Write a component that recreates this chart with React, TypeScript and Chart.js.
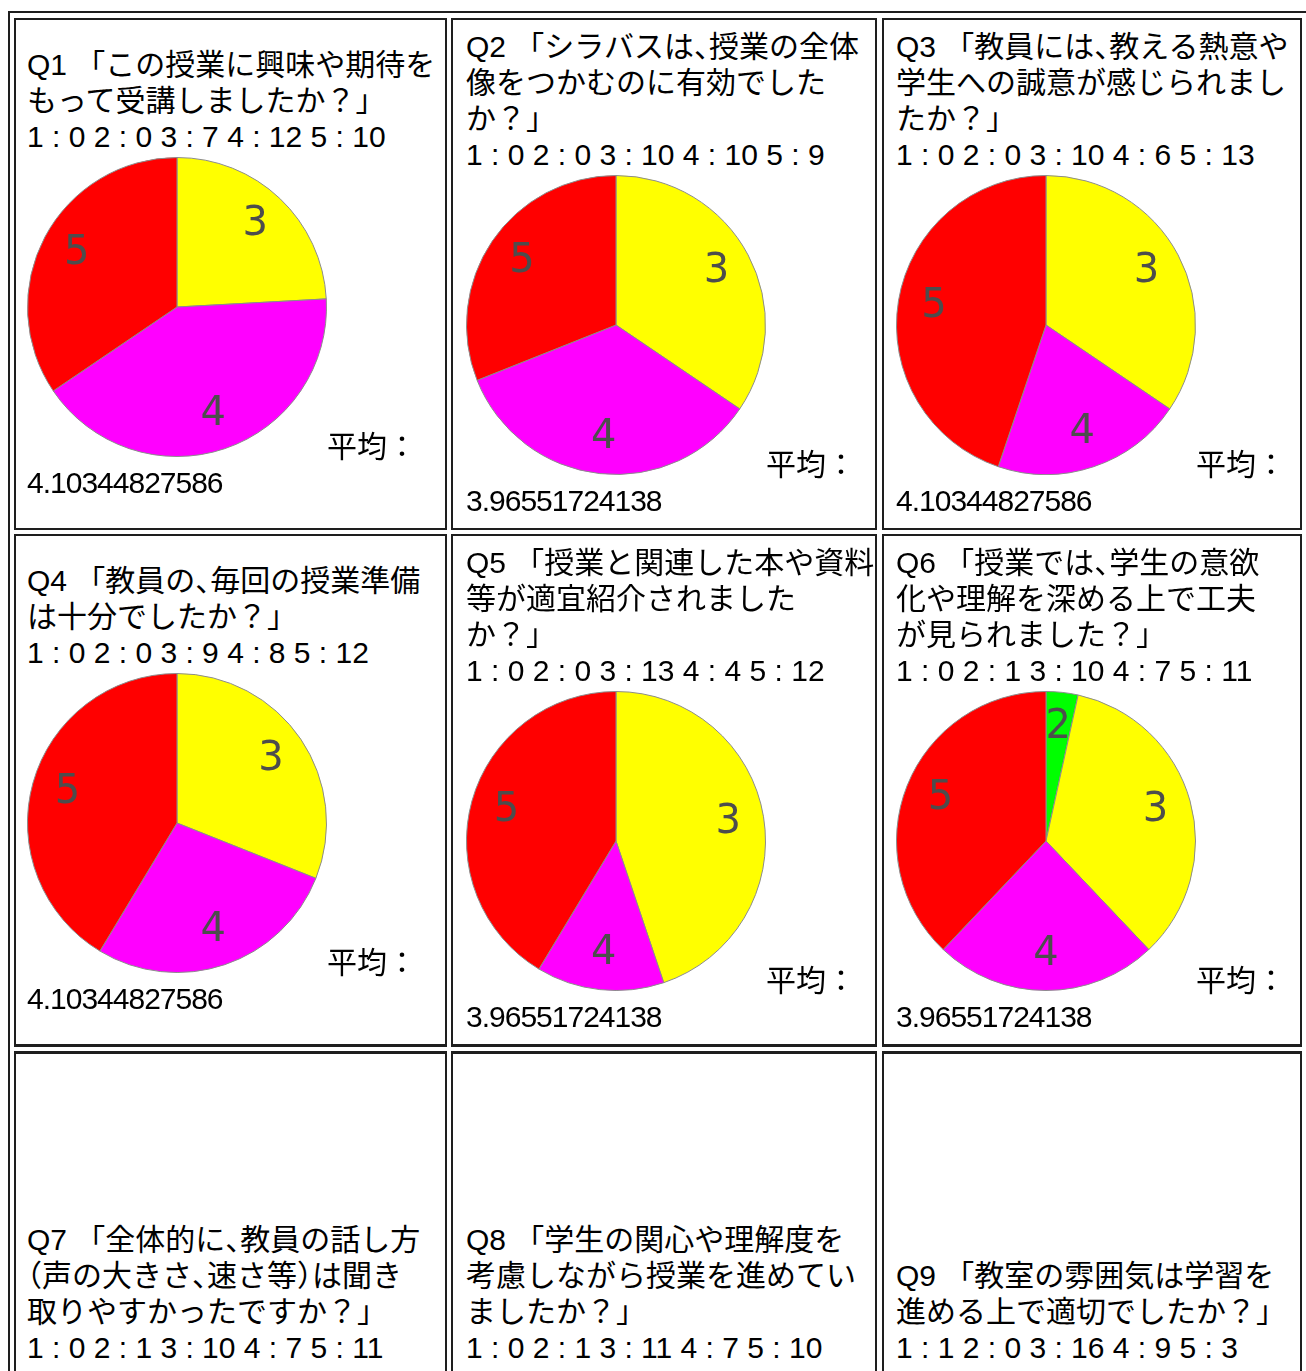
import React, { useEffect, useRef } from "react";
import { Chart, registerables } from "chart.js";

Chart.register(...registerables);

// ---------- data ----------
const categories = ["1", "2", "3", "4", "5"];
const sliceColors = ["#0000ff", "#00ff00", "#ffff00", "#ff00ff", "#ff0000"];

const q1Title = ["Q1 「この授業に興味や期待を", "もって受講しましたか？」"];
const q2Title = ["Q2 「シラバスは、授業の全体", "像をつかむのに有効でした", "か？」"];
const q3Title = ["Q3 「教員には、教える熱意や", "学生への誠意が感じられまし", "たか？」"];
const q4Title = ["Q4 「教員の、毎回の授業準備", "は十分でしたか？」"];
const q5Title = ["Q5 「授業と関連した本や資料", "等が適宜紹介されました", "か？」"];
const q6Title = ["Q6 「授業では、学生の意欲", "化や理解を深める上で工夫", "が見られました？」"];
const q7Title = ["Q7 「全体的に、教員の話し方", "（声の大きさ、速さ等）は聞き", "取りやすかったですか？」"];
const q8Title = ["Q8 「学生の関心や理解度を", "考慮しながら授業を進めてい", "ましたか？」"];
const q9Title = ["Q9 「教室の雰囲気は学習を", "進める上で適切でしたか？」"];

const q1Values = [0, 0, 7, 12, 10];
const q2Values = [0, 0, 10, 10, 9];
const q3Values = [0, 0, 10, 6, 13];
const q4Values = [0, 0, 9, 8, 12];
const q5Values = [0, 0, 13, 4, 12];
const q6Values = [0, 1, 10, 7, 11];
const q7Values = [0, 1, 10, 7, 11];
const q8Values = [0, 1, 11, 7, 10];
const q9Values = [1, 0, 16, 9, 3];

const averageLabel = "平均：";

const questions = [
  { title: q1Title, values: q1Values },
  { title: q2Title, values: q2Values },
  { title: q3Title, values: q3Values },
  { title: q4Title, values: q4Values },
  { title: q5Title, values: q5Values },
  { title: q6Title, values: q6Values },
  { title: q7Title, values: q7Values },
  { title: q8Title, values: q8Values },
  { title: q9Title, values: q9Values },
];

// ---------- layout ----------
const FONT = '"Liberation Sans", Arial, "Noto Sans CJK JP", sans-serif';
const LINE = 36;
const BORDER = "#1e1e1e";

const COLS = [
  { left: 14, width: 433, padL: 11 },
  { left: 451, width: 426, padL: 13 },
  { left: 882, width: 420, padL: 12 },
];
const ROWS = [
  { top: 18, height: 512, bt: 2, bb: 2 },
  { top: 534, height: 513, bt: 2, bb: 3 },
  { top: 1051, height: 900, bt: 3, bb: 2 },
];

const HALF_CHARS = "、（）";

function renderLine(t: string) {
  const parts: React.ReactNode[] = [];
  let buf = "";
  let k = 0;
  for (const ch of t) {
    if (HALF_CHARS.includes(ch)) {
      if (buf) parts.push(buf);
      buf = "";
      parts.push(
        <span key={k++} style={{ fontFeatureSettings: '"halt"' }}>
          {ch}
        </span>
      );
    } else buf += ch;
  }
  if (buf) parts.push(buf);
  return parts;
}

function countsText(values: number[]) {
  return categories.map((c, i) => `${c} : ${values[i]}`).join(" ");
}
function averageText(values: number[]) {
  const n = values.reduce((a, b) => a + b, 0);
  const s = values.reduce((a, v, i) => a + v * Number(categories[i]), 0);
  return (s / n).toPrecision(12);
}

const labelPlugin = {
  id: "sliceLabels",
  afterDatasetsDraw(chart: any) {
    const ctx = chart.ctx;
    const meta = chart.getDatasetMeta(0);
    const data = chart.data.datasets[0].data as number[];
    ctx.save();
    ctx.font = '40px "DejaVu Sans", sans-serif';
    ctx.fillStyle = "#4d4d4d";
    ctx.textAlign = "center";
    ctx.textBaseline = "middle";
    meta.data.forEach((arc: any, i: number) => {
      if (!data[i]) return;
      const p = arc.getProps(["x", "y", "startAngle", "endAngle", "outerRadius"], true);
      const mid = (p.startAngle + p.endAngle) / 2;
      const r = p.outerRadius * 0.76;
      ctx.fillText(
        String(chart.data.labels[i]),
        p.x + Math.cos(mid) * r,
        p.y + Math.sin(mid) * r
      );
    });
    ctx.restore();
  },
};

function Pie({ values }: { values: number[] }) {
  const ref = useRef<HTMLCanvasElement>(null);
  useEffect(() => {
    if (!ref.current) return;
    const chart = new Chart(ref.current, {
      type: "pie",
      data: {
        labels: categories,
        datasets: [
          {
            data: values,
            backgroundColor: sliceColors,
            borderColor: "#8c8c8c",
            borderWidth: 1,
          },
        ],
      },
      options: {
        animation: false,
        responsive: false,
        devicePixelRatio: 1,
        events: [],
        layout: { padding: 0 },
        plugins: {
          legend: { display: false },
          tooltip: { enabled: false },
        },
      },
      plugins: [labelPlugin],
    } as any);
    return () => chart.destroy();
  }, [values]);
  return (
    <canvas
      ref={ref}
      width={300}
      height={300}
      style={{ display: "block", width: 300, height: 300 }}
    />
  );
}

function Cell({ index }: { index: number }) {
  const q = questions[index];
  const col = COLS[index % 3];
  const rowIdx = Math.floor(index / 3);
  const row = ROWS[rowIdx];
  const isLast = rowIdx === 2;
  const padTop = isLast ? 1222 + LINE * (3 - q.title.length) - (row.top + row.bt) : 0;
  return (
    <div
      style={{
        position: "absolute",
        left: col.left,
        top: row.top,
        width: col.width,
        height: row.height,
        boxSizing: "border-box",
        borderStyle: "solid",
        borderColor: BORDER,
        borderLeftWidth: 2,
        borderRightWidth: 2,
        borderTopWidth: row.bt,
        borderBottomWidth: row.bb,
        paddingLeft: col.padL,
        paddingTop: padTop,
        display: "flex",
        flexDirection: "column",
        justifyContent: isLast ? "flex-start" : "center",
        whiteSpace: "nowrap",
      }}
    >
      {q.title.map((t, i) => (
        <div key={i} style={{ height: LINE }}>
          {renderLine(t)}
        </div>
      ))}
      <div style={{ height: LINE }}>{countsText(q.values)}</div>
      {!isLast && (
        <>
          <div style={{ display: "flex", alignItems: "baseline", marginTop: 2 }}>
            <Pie values={q.values} />
            <div style={{ height: LINE }}>{averageLabel}</div>
          </div>
          <div style={{ height: LINE, letterSpacing: "-1px" }}>{averageText(q.values)}</div>
        </>
      )}
    </div>
  );
}

export default function App() {
  return (
    <div
      style={{
        position: "fixed",
        left: 0,
        top: 0,
        width: 1306,
        height: 1371,
        overflow: "hidden",
        background: "#ffffff",
        fontFamily: FONT,
        fontSize: 30,
        lineHeight: `${LINE}px`,
        color: "#000000",
      }}
    >
      <div
        style={{
          position: "absolute",
          left: 8,
          top: 11,
          width: 1400,
          height: 2000,
          boxSizing: "border-box",
          border: `2px solid ${BORDER}`,
        }}
      />
      {questions.map((_, i) => (
        <Cell key={i} index={i} />
      ))}
    </div>
  );
}
